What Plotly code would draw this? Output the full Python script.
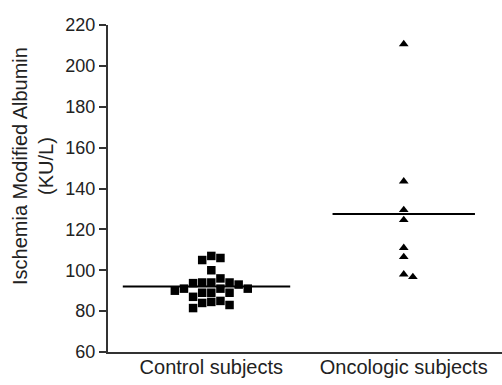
import plotly.graph_objects as go
import numpy as np

categories = ["Control subjects", "Oncologic subjects"]
control_values = [107, 106, 105, 100, 96, 94, 94, 94, 93.7, 93, 91, 91, 91, 90,
                  89, 89, 89, 87, 85, 84.5, 84, 83, 81.5]
oncologic_values = [210.7, 143.5, 129.5, 124.6, 111, 106.5, 98, 96.7]
y_ticks = [60, 80, 100, 120, 140, 160, 180, 200, 220]
y_title = "Ischemia Modified Albumin<br>(KU/L)"

# pixel scales used only for the beeswarm collision test
X_PX = 190.0   # px per x unit
Y_PX = 327.0 / 160.0  # px per y unit
MS = 8.5

def beeswarm(vals, center):
    placed = []
    xs = []
    for v in vals:
        k = 0
        while True:
            step = (k + 1) // 2
            sign = 1 if k % 2 == 1 else -1
            off = sign * step * (MS + 0.5) / X_PX if k > 0 else 0.0
            ok = True
            for (px, py) in placed:
                if abs((off - px) * X_PX) < MS and abs((v - py) * Y_PX) < MS:
                    ok = False
                    break
            if ok:
                break
            k += 1
        placed.append((off, v))
        xs.append(center + off)
    return xs

centers = [1, 2]
fig = go.Figure()
fig.add_trace(go.Scatter(x=beeswarm(control_values, centers[0]), y=control_values,
                         mode="markers",
                         marker=dict(symbol="square", size=MS, color="black"),
                         showlegend=False))
fig.add_trace(go.Scatter(x=beeswarm(oncologic_values, centers[1]), y=oncologic_values,
                         mode="markers",
                         marker=dict(symbol="triangle-up", size=MS, color="black"),
                         showlegend=False))

for c, vals, (l, r) in [(centers[0], control_values, (0.46, 0.41)),
                        (centers[1], oncologic_values, (0.37, 0.37))]:
    m = float(np.mean(vals))
    fig.add_shape(type="line", x0=c - l, x1=c + r, y0=m, y1=m,
                  line=dict(color="black", width=2))

fig.add_annotation(text=y_title, textangle=-90, xref="paper", yref="paper",
                   x=(33 - 108) / 394, y=(352 - 166) / 327, xanchor="center",
                   yanchor="middle", showarrow=False,
                   font=dict(size=20, color="#222"))

fig.update_layout(
    width=502, height=385,
    margin=dict(l=108, r=0, t=25, b=33),
    paper_bgcolor="white", plot_bgcolor="white",
    font=dict(family="Liberation Sans, Arial", size=18, color="#222"),
)
fig.update_xaxes(range=[1 - 102 / X_PX, 2 + 97 / X_PX], tickvals=centers,
                 ticktext=categories, showgrid=False, zeroline=False,
                 showline=True, linecolor="#333", linewidth=2, ticks="",
                 ticklabelstandoff=-4,
                 tickfont=dict(size=20))
fig.update_yaxes(range=[60, 220], tickvals=y_ticks, showgrid=False, zeroline=False,
                 showline=True, linecolor="#333", linewidth=2, ticks="outside",
                 ticklen=7, tickwidth=2, tickcolor="#333",
                 tickfont=dict(size=18))

fig.write_html("out.html")
